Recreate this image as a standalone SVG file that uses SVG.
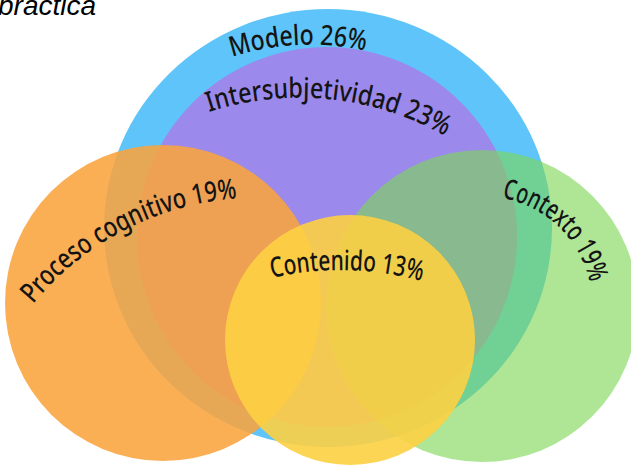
<svg xmlns="http://www.w3.org/2000/svg" width="631" height="466" viewBox="0 0 631 466">
  <style>
    .lbl { font-family: "Noto Sans", "Open Sans", "DejaVu Sans", sans-serif; font-size: 28px; font-weight: 500; fill: #141414; }
    .title { font-family: "Liberation Sans", Arial, sans-serif; font-size: 28px; font-style: italic; fill: #000; }
  </style>
  <defs>
    <path id="pModelo" d="M 232,57 A 254 254 0 0 1 385,56"/>
    <path id="pInter" d="M 209,112 A 295 295 0 0 1 470,152"/>
    <path id="pProceso" d="M 33,304 A 293 293 0 0 1 275,198"/>
    <path id="pContexto" d="M 502,198 A 110 110 0 0 1 592,296"/>
    <path id="pContenido" d="M 272,278 A 302 302 0 0 1 440,287"/>
  </defs>
  <rect width="631" height="466" fill="#ffffff"/>
  <text class="title" x="-2" y="15">bractica</text>

  <g id="modelo">
    <ellipse cx="328" cy="228" rx="224" ry="219" fill="#5EC4F9"/>
    <text class="lbl"><textPath href="#pModelo" textLength="135" lengthAdjust="spacingAndGlyphs">Modelo 26%</textPath></text>
  </g>
  <g id="intersubjetividad">
    <circle cx="327" cy="237" r="190" fill="#9C89EC"/>
    <text class="lbl"><textPath href="#pInter" textLength="244" lengthAdjust="spacingAndGlyphs">Intersubjetividad 23%</textPath></text>
  </g>
  <g id="proceso">
    <circle cx="163" cy="303" r="158" fill="rgb(249,164,62)" fill-opacity="0.88"/>
    <text class="lbl"><textPath href="#pProceso" textLength="236" lengthAdjust="spacingAndGlyphs">Proceso cognitivo 19%</textPath></text>
  </g>
  <g id="contexto">
    <circle cx="482" cy="306" r="156" fill="rgb(126,215,86)" fill-opacity="0.62"/>
    <text class="lbl"><textPath href="#pContexto" textLength="129" lengthAdjust="spacingAndGlyphs">Contexto 19%</textPath></text>
  </g>
  <g id="contenido">
    <circle cx="350" cy="340" r="125" fill="rgb(253,208,66)" fill-opacity="0.9"/>
    <text class="lbl"><textPath href="#pContenido" textLength="151" lengthAdjust="spacingAndGlyphs">Contenido 13%</textPath></text>
  </g>
  <g id="connectors"/>
</svg>
